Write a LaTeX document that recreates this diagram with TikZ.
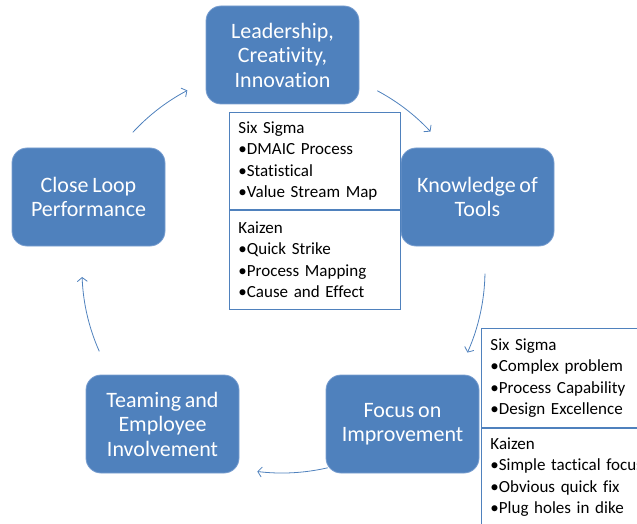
\documentclass[tikz,border=0pt]{standalone}
\usepackage{fontspec}
\setmainfont[Ligatures=NoCommon,WordSpace=0.75]{Carlito}
\usetikzlibrary{arrows.meta}
\definecolor{boxblue}{HTML}{4F81BD}
\definecolor{edgeblue}{HTML}{7A9FD0}
\begin{document}
\begin{tikzpicture}[x=1pt,y=1pt,
  stage/.style={rectangle, rounded corners=15pt, fill=boxblue, draw=edgeblue, line width=0.8pt,
    minimum width=153pt, minimum height=98pt, text=white, align=center,
    font=\fontsize{22}{24.5}\selectfont},
  panel/.style={rectangle, draw=boxblue, line width=0.9pt, fill=white, align=left,
    inner xsep=9pt, inner ysep=0pt, font=\fontsize{17}{21.5}\selectfont, anchor=north west},
  flow/.style={draw=boxblue, line width=0.8pt, -{Straight Barb[length=4pt,width=10pt]}}]
\useasboundingbox (0,0) rectangle (637,523);
\clip (0,0) rectangle (637,523);

\node[stage] (lead)  at (282.5,468) {Leadership,\\Creativity,\\Innovation};
\node[stage] (close) at (88.5,326) {Close Loop\\Performance};
\node[stage] (know)  at (477.5,326) {Knowledge of\\Tools};
\node[stage] (team)  at (162.5,99) {Teaming and\\Employee\\Involvement};
\node[stage] (focus) at (402.5,99) {Focus on\\Improvement};

\node[panel, text width=153pt, minimum height=97pt] (p1a) at (229,411)
  {Six Sigma\\•DMAIC Process\\•Statistical\\•Value Stream Map};
\node[panel, text width=153pt, minimum height=99pt] (p1b) at (p1a.south west)
  {Kaizen\\•Quick Strike\\•Process Mapping\\•Cause and Effect};
\node[panel, text width=172pt, minimum height=99pt] (p2a) at (481,195)
  {Six Sigma\\•Complex problem\\•Process Capability\\•Design Excellence};
\node[panel, text width=172pt, minimum height=98pt] (p2b) at (p2a.south west)
  {Kaizen\\•Simple tactical focus\\•Obvious quick fix\\•Plug holes in dike};

\coordinate (ctr) at (282,253);
\coordinate (a1) at ([shift={(137.3:203pt)}]ctr);
\coordinate (a2) at ([shift={(62:203pt)}]ctr);
\coordinate (a3) at ([shift={(-1:203pt)}]ctr);
\coordinate (a4) at ([shift={(-77:203pt)}]ctr);
\coordinate (a5) at ([shift={(-156:200pt)}]ctr);
\draw[flow] (a1) arc[start angle=137.3, end angle=117.8, radius=203pt];
\draw[flow] (a2) arc[start angle=62, end angle=43, radius=203pt];
\draw[flow] (a3) arc[start angle=-1, end angle=-24, radius=203pt];
\draw[flow] (a4) arc[start angle=-77, end angle=-97, radius=203pt];
\draw[flow] (a5) arc[start angle=-156, end angle=-178, radius=200pt];
\end{tikzpicture}
\end{document}
